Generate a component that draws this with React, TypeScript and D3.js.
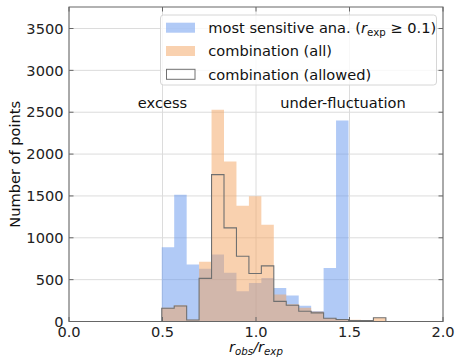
import React from "react";
import * as d3 from "d3";

// Bin edges of the histograms (r_obs / r_exp)
const binEdges = [
  0.496, 0.5626, 0.6292, 0.6957, 0.7623, 0.8289, 0.8955, 0.9621, 1.0286,
  1.0952, 1.1618, 1.2284, 1.295, 1.3615, 1.4281, 1.4947, 1.5613, 1.6279, 1.6945,
];
// most sensitive analysis (r_exp >= 0.1)
const mostSensitive = [886, 1515, 680, 630, 800, 581, 362, 461, 521, 400, 310, 188, 125, 640, 2402, 0, 0, 0];
// combination (all)
const combinationAll = [165, 195, 22, 715, 2529, 1912, 1384, 1495, 1157, 322, 205, 165, 120, 40, 28, 20, 12, 44];
// combination (allowed)
const combinationAllowed = [158, 185, 18, 515, 1754, 1118, 779, 573, 664, 240, 195, 123, 103, 38, 24, 12, 10, 44];

const xTicks = [0, 0.5, 1.0, 1.5, 2.0];
const yTicks = [0, 500, 1000, 1500, 2000, 2500, 3000, 3500];
const annotations = [
  { text: "excess", x: 0.5 },
  { text: "under-fluctuation", x: 1.465 },
];

const W = 457;
const H = 358;
const M = { left: 69, right: 443, top: 7, bottom: 321.5 };
const FONT = "DejaVu Sans, sans-serif";
const FS = 14.6;

export default function App() {
  const x = d3.scaleLinear().domain([0, 2]).range([M.left, M.right]);
  const y = d3.scaleLinear().domain([0, 3757]).range([M.bottom, M.top]);

  const stepPoints = (vals: number[]) => {
    const pts: [number, number][] = [[binEdges[0], 0]];
    vals.forEach((v, i) => {
      pts.push([binEdges[i], v]);
      pts.push([binEdges[i + 1], v]);
    });
    pts.push([binEdges[vals.length], 0]);
    return pts;
  };
  const line = d3
    .line<[number, number]>()
    .x((d) => x(d[0]))
    .y((d) => y(d[1]));

  const bluePath = line(stepPoints(mostSensitive)) + "Z";
  const orangePath = line(stepPoints(combinationAll)) + "Z";
  const allowedPath = line(stepPoints(combinationAllowed)) || "";

  const tickLen = 4.5;
  const frame = "#666";
  const grid = "#dcdcdc";
  const outline = "#707070";

  const legendX = 160.5;
  const legendY = 15;
  const legendW = 276;
  const legendH = 70;
  const rows = [27.7, 51, 74.3];

  return (
    <svg
      width={W}
      height={H}
      style={{ position: "absolute", left: 0, top: 0, background: "white" }}
      fontFamily={FONT}
    >
      <defs>
        <clipPath id="plotclip">
          <rect x={M.left} y={M.top} width={M.right - M.left} height={M.bottom - M.top} />
        </clipPath>
      </defs>
      {/* grid */}
      {xTicks.map((t) => (
        <line key={"gx" + t} x1={x(t)} x2={x(t)} y1={M.top} y2={M.bottom} stroke={grid} strokeWidth={1} />
      ))}
      {yTicks.map((t) => (
        <line key={"gy" + t} x1={M.left} x2={M.right} y1={y(t)} y2={y(t)} stroke={grid} strokeWidth={1} />
      ))}

      <g clipPath="url(#plotclip)">
        <path d={bluePath} fill="#6495ED" fillOpacity={0.5} stroke="none" />
        <path d={orangePath} fill="#F4A460" fillOpacity={0.5} stroke="none" />
        <path d={allowedPath} fill="none" stroke={outline} strokeWidth={1.1} />
      </g>

      {/* frame */}
      <rect
        x={M.left}
        y={M.top}
        width={M.right - M.left}
        height={M.bottom - M.top}
        fill="none"
        stroke={frame}
        strokeWidth={1}
      />
      {/* ticks, inward on all sides */}
      {xTicks.map((t) => (
        <g key={"tx" + t}>
          <line x1={x(t)} x2={x(t)} y1={M.bottom} y2={M.bottom - tickLen} stroke={frame} />
          <line x1={x(t)} x2={x(t)} y1={M.top} y2={M.top + tickLen} stroke={frame} />
          <text x={x(t)} y={336.5} fontSize={FS} textAnchor="middle" fill="#222">
            {t.toFixed(1)}
          </text>
        </g>
      ))}
      {yTicks.map((t) => (
        <g key={"ty" + t}>
          <line x1={M.left} x2={M.left + tickLen} y1={y(t)} y2={y(t)} stroke={frame} />
          <line x1={M.right} x2={M.right - tickLen} y1={y(t)} y2={y(t)} stroke={frame} />
          <text x={63.5} y={y(t)} dy="0.36em" fontSize={FS} textAnchor="end" fill="#222">
            {t}
          </text>
        </g>
      ))}

      {/* annotations */}
      {annotations.map((a) => (
        <text key={a.text} x={x(a.x)} y={108} fontSize={FS} textAnchor="middle" fill="#111">
          {a.text}
        </text>
      ))}

      {/* legend */}
      <rect
        x={legendX}
        y={legendY}
        width={legendW}
        height={legendH}
        rx={3}
        fill="white"
        fillOpacity={0.8}
        stroke="#d6d6d6"
        strokeWidth={1}
      />
      <rect x={166} y={rows[0] - 5} width={29} height={10} fill="#6495ED" fillOpacity={0.5} />
      <rect x={166} y={rows[1] - 5} width={29} height={10} fill="#F4A460" fillOpacity={0.5} />
      <rect x={166.5} y={rows[2] - 5} width={28.5} height={10} fill="none" stroke={outline} strokeWidth={1} />
      <text x={208.3} y={rows[0]} dy="0.36em" fontSize={FS} fill="#111">
        most sensitive ana. (
        <tspan fontStyle="italic">r</tspan>
        <tspan fontSize={FS * 0.7} dy={3}>exp</tspan>
        <tspan dy={-3}> ≥ 0.1)</tspan>
      </text>
      <text x={208.3} y={rows[1]} dy="0.36em" fontSize={FS} fill="#111">
        combination (all)
      </text>
      <text x={208.3} y={rows[2]} dy="0.36em" fontSize={FS} fill="#111">
        combination (allowed)
      </text>

      {/* axis labels */}
      <text x={(M.left + M.right) / 2} y={352} fontSize={FS} textAnchor="middle" fill="#111" fontStyle="italic">
        r<tspan fontSize={FS * 0.7} dy={3}>obs</tspan>
        <tspan dy={-3}>/r</tspan>
        <tspan fontSize={FS * 0.7} dy={3}>exp</tspan>
      </text>
      <text
        transform={`translate(19.5, ${(M.top + M.bottom) / 2}) rotate(-90)`}
        fontSize={FS}
        textAnchor="middle"
        fill="#111"
      >
        Number of points
      </text>
    </svg>
  );
}
